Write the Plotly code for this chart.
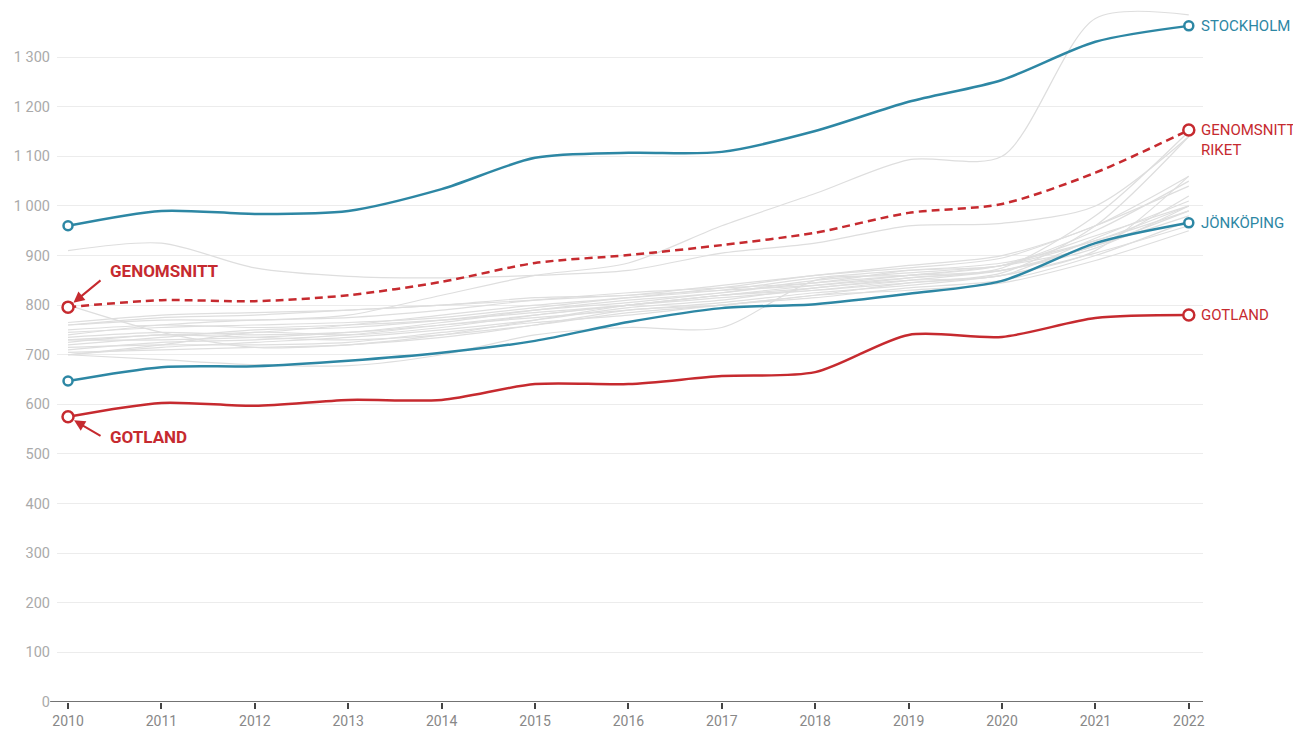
import plotly.graph_objects as go

# Years on the x axis
years = list(range(2010, 2023))

# Highlighted series
stockholm = [960, 990, 984, 990, 1034, 1097, 1107, 1109, 1151, 1210, 1254, 1331, 1363]
genomsnitt = [796, 810, 808, 820, 847, 885, 901, 921, 946, 986, 1004, 1067, 1153]
jonkoping = [647, 675, 677, 688, 704, 728, 766, 794, 802, 823, 849, 925, 966]
gotland = [575, 603, 597, 609, 609, 641, 641, 657, 665, 740, 736, 774, 780]

# Other regions (grey background lines)
g01 = [760, 770, 770, 780, 820, 860, 885, 960, 1025, 1093, 1100, 1378, 1385]
g02 = [910, 925, 875, 858, 855, 860, 870, 905, 925, 960, 965, 1000, 1140]
g03 = [800, 745, 715, 720, 740, 770, 800, 820, 840, 860, 880, 930, 1000]
g04 = [700, 690, 680, 678, 700, 740, 755, 755, 850, 860, 870, 920, 990]
g05 = [760, 775, 780, 790, 800, 815, 820, 840, 860, 880, 900, 960, 1060]
g06 = [740, 760, 770, 775, 790, 810, 825, 835, 845, 870, 880, 940, 1000]
g07 = [730, 740, 745, 760, 780, 800, 815, 830, 855, 870, 885, 930, 990]
g08 = [720, 735, 750, 755, 770, 790, 805, 825, 845, 860, 880, 950, 1050]
g09 = [710, 725, 730, 740, 760, 780, 800, 815, 830, 850, 870, 920, 980]
g10 = [735, 745, 740, 745, 760, 775, 790, 805, 825, 840, 860, 905, 960]
g11 = [700, 715, 725, 735, 750, 770, 795, 810, 835, 850, 860, 935, 1010]
g12 = [725, 740, 735, 730, 740, 760, 785, 800, 820, 845, 865, 960, 1140]
g13 = [745, 755, 760, 765, 775, 795, 815, 835, 860, 875, 895, 960, 1040]
g14 = [715, 720, 720, 725, 745, 765, 780, 800, 815, 835, 850, 900, 970]
g15 = [765, 780, 785, 790, 800, 810, 820, 830, 840, 855, 870, 915, 1000]
g16 = [705, 710, 715, 720, 735, 760, 790, 800, 820, 830, 845, 890, 950]
g17 = [750, 760, 755, 760, 770, 785, 800, 820, 835, 855, 875, 980, 1150]
g18 = [730, 730, 735, 745, 765, 790, 810, 825, 850, 865, 880, 920, 1020]
g19 = [700, 720, 745, 740, 755, 780, 800, 820, 830, 845, 860, 910, 1060]
grey_lines = [g01, g02, g03, g04, g05, g06, g07, g08, g09, g10,
              g11, g12, g13, g14, g15, g16, g17, g18, g19]

BLUE = "#2d87a4"
RED = "#c62a2f"
GREY = "#dedede"

fig = go.Figure()

# Grey background lines
for vals in grey_lines:
    fig.add_trace(go.Scatter(
        x=years, y=vals, mode="lines",
        line=dict(color=GREY, width=1.2, shape="spline", smoothing=0.8),
        hoverinfo="skip", showlegend=False
    ))


# Highlighted line with open circles at both ends
def add_main(vals, color, dash="solid"):
    fig.add_trace(go.Scatter(
        x=years, y=vals, mode="lines",
        line=dict(color=color, width=2.5, shape="spline", smoothing=0.8, dash=dash),
        showlegend=False
    ))
    fig.add_trace(go.Scatter(
        x=[years[0], years[-1]], y=[vals[0], vals[-1]], mode="markers",
        marker=dict(size=11 if color == RED else 9, color="white",
                    line=dict(color=color, width=2.5)),
        cliponaxis=False, showlegend=False
    ))


add_main(stockholm, BLUE)
add_main(jonkoping, BLUE)
add_main(gotland, RED)
add_main(genomsnitt, RED, dash="8px,5px")

# Labels on the right side
right_labels = [
    ("STOCKHOLM", stockholm[-1], BLUE, "middle"),
    ("GENOMSNITT<br>RIKET", genomsnitt[-1], RED, "top"),
    ("JÖNKÖPING", jonkoping[-1], BLUE, "middle"),
    ("GOTLAND", gotland[-1], RED, "middle"),
]
for text, yv, color, anchor in right_labels:
    fig.add_annotation(
        x=years[-1], y=yv, text=text, showarrow=False,
        xanchor="left", yanchor=anchor, xshift=10, yshift=11 if anchor == "top" else 0,
        align="left", font=dict(family="Roboto", size=15, color=color)
    )

# Left-side callouts
fig.add_annotation(x=2010.43, y=869, text="<b>GENOMSNITT</b>", showarrow=False,
                   xanchor="left", font=dict(family="Roboto", size=17, color=RED))
fig.add_annotation(x=2010.43, y=534, text="<b>GOTLAND</b>", showarrow=False,
                   xanchor="left", font=dict(family="Roboto", size=17, color=RED))
fig.add_annotation(x=2010, y=genomsnitt[0], text="", showarrow=True,
                   ax=34, ay=-28, arrowhead=2, arrowsize=1.1, arrowwidth=2,
                   arrowcolor=RED, standoff=7)
fig.add_annotation(x=2010, y=gotland[0], text="", showarrow=True,
                   ax=34, ay=20, arrowhead=2, arrowsize=1.1, arrowwidth=2,
                   arrowcolor=RED, standoff=7)

# Baseline that reaches a little further left than the gridlines
fig.add_shape(type="line", xref="paper", yref="y", x0=-0.006, x1=1, y0=0, y1=0,
              line=dict(color="#444", width=1.5))

# The page puts the figure 8px in from the top-left corner, so size and margins allow for that
fig.update_layout(
    width=1293, height=726,
    margin=dict(l=49, r=98, t=2, b=32),
    plot_bgcolor="white", paper_bgcolor="white",
    separators=", ",
    font=dict(family="Roboto", size=14, color="#999"),
    xaxis=dict(
        range=[2009.882, 2022.152], tickvals=years, showgrid=False, zeroline=False,
        showline=False, automargin=False,
        ticks="outside", ticklen=6, tickcolor="#444", tickwidth=1.5,
        tickfont=dict(color="#888", size=14)
    ),
    yaxis=dict(
        range=[0, 1395], tickvals=list(range(0, 1400, 100)), showgrid=True,
        gridcolor="#ececec", gridwidth=1, zeroline=False, showline=False,
        automargin=False, tickformat=",d", ticklabelstandoff=6,
        tickfont=dict(color="#aaa", size=14.5)
    ),
)

fig.write_html("out.html")
